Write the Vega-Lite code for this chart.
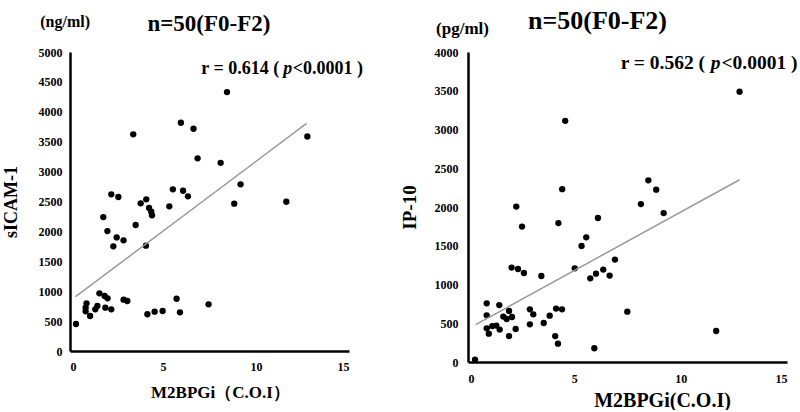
{
  "$schema": "https://vega.github.io/schema/vega-lite/v6.json",
  "background": "white",
  "padding": {"left": 2, "top": 8, "right": 0, "bottom": 0},
  "spacing": 36,
  "datasets": {
    "sicam": [
      {"m2bpgi": 8.44, "val": 4330}, {"m2bpgi": 3.40, "val": 3623}, {"m2bpgi": 5.96, "val": 3817}, {"m2bpgi": 6.64, "val": 3717},
      {"m2bpgi": 12.76, "val": 3587}, {"m2bpgi": 6.86, "val": 3222}, {"m2bpgi": 8.10, "val": 3146}, {"m2bpgi": 9.17, "val": 2787},
      {"m2bpgi": 5.53, "val": 2704}, {"m2bpgi": 6.08, "val": 2680}, {"m2bpgi": 2.22, "val": 2620}, {"m2bpgi": 2.60, "val": 2575},
      {"m2bpgi": 6.34, "val": 2587}, {"m2bpgi": 3.80, "val": 2469}, {"m2bpgi": 4.10, "val": 2536}, {"m2bpgi": 4.25, "val": 2391},
      {"m2bpgi": 4.37, "val": 2330}, {"m2bpgi": 4.41, "val": 2269}, {"m2bpgi": 5.34, "val": 2419}, {"m2bpgi": 1.79, "val": 2240},
      {"m2bpgi": 3.53, "val": 2107}, {"m2bpgi": 2.01, "val": 2006}, {"m2bpgi": 2.51, "val": 1900}, {"m2bpgi": 2.88, "val": 1851},
      {"m2bpgi": 2.33, "val": 1750}, {"m2bpgi": 4.08, "val": 1761}, {"m2bpgi": 8.83, "val": 2463}, {"m2bpgi": 11.63, "val": 2496},
      {"m2bpgi": 0.32, "val": 451}, {"m2bpgi": 0.89, "val": 797}, {"m2bpgi": 0.84, "val": 724}, {"m2bpgi": 0.84, "val": 663},
      {"m2bpgi": 1.08, "val": 585}, {"m2bpgi": 1.36, "val": 697}, {"m2bpgi": 1.47, "val": 752}, {"m2bpgi": 1.58, "val": 965},
      {"m2bpgi": 1.86, "val": 920}, {"m2bpgi": 2.02, "val": 881}, {"m2bpgi": 1.90, "val": 724}, {"m2bpgi": 2.22, "val": 697},
      {"m2bpgi": 2.88, "val": 858}, {"m2bpgi": 3.08, "val": 836}, {"m2bpgi": 4.16, "val": 614}, {"m2bpgi": 4.55, "val": 657},
      {"m2bpgi": 4.98, "val": 669}, {"m2bpgi": 5.73, "val": 874}, {"m2bpgi": 5.91, "val": 647}, {"m2bpgi": 7.45, "val": 781}
    ],
    "sicamFit": [{"m2bpgi": 0.3, "val": 908}, {"m2bpgi": 12.72, "val": 3806}],
    "ip10": [
      {"m2bpgi": 12.77, "val": 3488}, {"m2bpgi": 4.57, "val": 3112}, {"m2bpgi": 8.48, "val": 2344}, {"m2bpgi": 8.85, "val": 2224},
      {"m2bpgi": 4.43, "val": 2230}, {"m2bpgi": 8.13, "val": 2038}, {"m2bpgi": 9.20, "val": 1922}, {"m2bpgi": 2.27, "val": 2005},
      {"m2bpgi": 2.54, "val": 1747}, {"m2bpgi": 4.25, "val": 1793}, {"m2bpgi": 6.11, "val": 1858}, {"m2bpgi": 5.56, "val": 1609},
      {"m2bpgi": 5.34, "val": 1497}, {"m2bpgi": 2.05, "val": 1218}, {"m2bpgi": 2.35, "val": 1200}, {"m2bpgi": 2.63, "val": 1148},
      {"m2bpgi": 3.45, "val": 1110}, {"m2bpgi": 5.02, "val": 1209}, {"m2bpgi": 5.75, "val": 1080}, {"m2bpgi": 6.02, "val": 1140},
      {"m2bpgi": 6.36, "val": 1192}, {"m2bpgi": 6.66, "val": 1115}, {"m2bpgi": 6.91, "val": 1321}, {"m2bpgi": 0.88, "val": 757},
      {"m2bpgi": 1.47, "val": 735}, {"m2bpgi": 0.88, "val": 602}, {"m2bpgi": 1.93, "val": 658}, {"m2bpgi": 1.66, "val": 586},
      {"m2bpgi": 1.82, "val": 555}, {"m2bpgi": 2.07, "val": 581}, {"m2bpgi": 0.88, "val": 435}, {"m2bpgi": 0.98, "val": 366},
      {"m2bpgi": 1.14, "val": 464}, {"m2bpgi": 1.33, "val": 470}, {"m2bpgi": 1.49, "val": 418}, {"m2bpgi": 1.93, "val": 335},
      {"m2bpgi": 2.24, "val": 426}, {"m2bpgi": 2.91, "val": 680}, {"m2bpgi": 3.07, "val": 615}, {"m2bpgi": 2.91, "val": 486},
      {"m2bpgi": 3.56, "val": 503}, {"m2bpgi": 3.84, "val": 598}, {"m2bpgi": 4.14, "val": 689}, {"m2bpgi": 4.42, "val": 680},
      {"m2bpgi": 4.10, "val": 335}, {"m2bpgi": 4.23, "val": 237}, {"m2bpgi": 5.94, "val": 177}, {"m2bpgi": 0.33, "val": 31},
      {"m2bpgi": 7.49, "val": 650}, {"m2bpgi": 11.67, "val": 400}
    ],
    "ip10Fit": [{"m2bpgi": 0.36, "val": 482}, {"m2bpgi": 12.77, "val": 2352}]
  },
  "hconcat": [
    {
      "width": 279,
      "height": 299,
      "encoding": {
        "x": {"field": "m2bpgi", "type": "quantitative", "scale": {"domain": [0, 15], "nice": false},
              "axis": {"values": [0, 5, 10, 15], "labelOverlap": false, "title": "M2BPGi（C.O.I）", "titleFontSize": 17, "labelPadding": 10, "titlePadding": 12, "titleX": 150}},
        "y": {"field": "val", "type": "quantitative", "scale": {"domain": [0, 5000], "nice": false},
              "axis": {"values": [0, 500, 1000, 1500, 2000, 2500, 3000, 3500, 4000, 4500, 5000], "labelOverlap": false, "format": "d", "title": "sICAM-1", "titleFontSize": 18, "labelPadding": 8, "titlePadding": 18}}
      },
      "layer": [
        {
          "data": {"name": "sicam"},
          "mark": {"type": "circle", "size": 40, "color": "black", "opacity": 1}
        },
        {
          "data": {"name": "sicamFit"},
          "mark": {"type": "line", "color": "#9a9a9a", "strokeWidth": 1.5}
        },
        {
          "data": {"name": "sicamFit"},
          "transform": [{"filter": "datum.m2bpgi < 1"}],
          "mark": {"type": "text", "align": "left", "baseline": "alphabetic", "font": "Liberation Serif", "fontWeight": "bold", "fontSize": 23, "color": "black"},
          "encoding": {"x": {"datum": 4.16}, "y": {"datum": 5350}, "text": {"value": "n=50(F0-F2)"}}
        },
        {
          "data": {"name": "sicamFit"},
          "transform": [{"filter": "datum.m2bpgi < 1"}],
          "mark": {"type": "text", "align": "left", "baseline": "alphabetic", "font": "Liberation Serif", "fontWeight": "bold", "fontSize": 16, "color": "black"},
          "encoding": {"x": {"datum": -1.6}, "y": {"datum": 5422}, "text": {"value": "(ng/ml)"}}
        },
        {
          "data": {"name": "sicamFit"},
          "transform": [{"filter": "datum.m2bpgi < 1"}],
          "mark": {"type": "text", "align": "left", "baseline": "alphabetic", "font": "Liberation Serif", "fontWeight": "bold", "fontSize": 18, "color": "black"},
          "encoding": {"x": {"datum": 7.06}, "y": {"datum": 4640}, "text": {"value": "r = 0.614 ("}}
        },
        {
          "data": {"name": "sicamFit"},
          "transform": [{"filter": "datum.m2bpgi < 1"}],
          "mark": {"type": "text", "align": "left", "baseline": "alphabetic", "font": "Liberation Serif", "fontWeight": "bold", "fontStyle": "italic", "fontSize": 18, "color": "black"},
          "encoding": {"x": {"datum": 11.47}, "y": {"datum": 4640}, "text": {"value": "p"}}
        },
        {
          "data": {"name": "sicamFit"},
          "transform": [{"filter": "datum.m2bpgi < 1"}],
          "mark": {"type": "text", "align": "left", "baseline": "alphabetic", "font": "Liberation Serif", "fontWeight": "bold", "fontSize": 18, "color": "black"},
          "encoding": {"x": {"datum": 11.98}, "y": {"datum": 4640}, "text": {"value": "<0.0001 )"}}
        }
      ]
    },
    {
      "width": 319,
      "height": 310,
      "encoding": {
        "x": {"field": "m2bpgi", "type": "quantitative", "scale": {"domain": [0, 15], "nice": false},
              "axis": {"values": [0, 5, 10, 15], "labelOverlap": false, "title": "M2BPGi(C.O.I)", "titleFontSize": 20, "labelPadding": 11, "titlePadding": 6, "titleX": 194}},
        "y": {"field": "val", "type": "quantitative", "scale": {"domain": [0, 4000], "nice": false},
              "axis": {"values": [0, 500, 1000, 1500, 2000, 2500, 3000, 3500, 4000], "labelOverlap": false, "format": "d", "title": "IP-10", "titleFontSize": 19, "labelPadding": 10, "titlePadding": 15}}
      },
      "layer": [
        {
          "data": {"name": "ip10"},
          "mark": {"type": "circle", "size": 40, "color": "black", "opacity": 1}
        },
        {
          "data": {"name": "ip10Fit"},
          "mark": {"type": "line", "color": "#9a9a9a", "strokeWidth": 1.5}
        },
        {
          "data": {"name": "ip10Fit"},
          "transform": [{"filter": "datum.m2bpgi < 1"}],
          "mark": {"type": "text", "align": "left", "baseline": "alphabetic", "font": "Liberation Serif", "fontWeight": "bold", "fontSize": 26, "color": "black"},
          "encoding": {"x": {"datum": 2.82}, "y": {"datum": 4292}, "text": {"value": "n=50(F0-F2)"}}
        },
        {
          "data": {"name": "ip10Fit"},
          "transform": [{"filter": "datum.m2bpgi < 1"}],
          "mark": {"type": "text", "align": "left", "baseline": "alphabetic", "font": "Liberation Serif", "fontWeight": "bold", "fontSize": 17, "color": "black"},
          "encoding": {"x": {"datum": -1.5}, "y": {"datum": 4236}, "text": {"value": "(pg/ml)"}}
        },
        {
          "data": {"name": "ip10Fit"},
          "transform": [{"filter": "datum.m2bpgi < 1"}],
          "mark": {"type": "text", "align": "left", "baseline": "alphabetic", "font": "Liberation Serif", "fontWeight": "bold", "fontSize": 19.5, "color": "black"},
          "encoding": {"x": {"datum": 7.18}, "y": {"datum": 3776}, "text": {"value": "r = 0.562 ("}}
        },
        {
          "data": {"name": "ip10Fit"},
          "transform": [{"filter": "datum.m2bpgi < 1"}],
          "mark": {"type": "text", "align": "left", "baseline": "alphabetic", "font": "Liberation Serif", "fontWeight": "bold", "fontStyle": "italic", "fontSize": 19.5, "color": "black"},
          "encoding": {"x": {"datum": 11.42}, "y": {"datum": 3776}, "text": {"value": "p"}}
        },
        {
          "data": {"name": "ip10Fit"},
          "transform": [{"filter": "datum.m2bpgi < 1"}],
          "mark": {"type": "text", "align": "left", "baseline": "alphabetic", "font": "Liberation Serif", "fontWeight": "bold", "fontSize": 19.5, "color": "black"},
          "encoding": {"x": {"datum": 11.92}, "y": {"datum": 3776}, "text": {"value": "<0.0001 )"}}
        }
      ]
    }
  ],
  "config": {
    "view": {"stroke": null},
    "axis": {"ticks": false, "grid": false, "labelOverlap": false, "domainColor": "black", "domainWidth": 2.5, "labelFont": "Liberation Serif", "labelFontWeight": "bold", "labelFontSize": 12, "labelColor": "black", "titleFont": "Liberation Serif", "titleFontWeight": "bold", "titleColor": "black"}
  }
}
